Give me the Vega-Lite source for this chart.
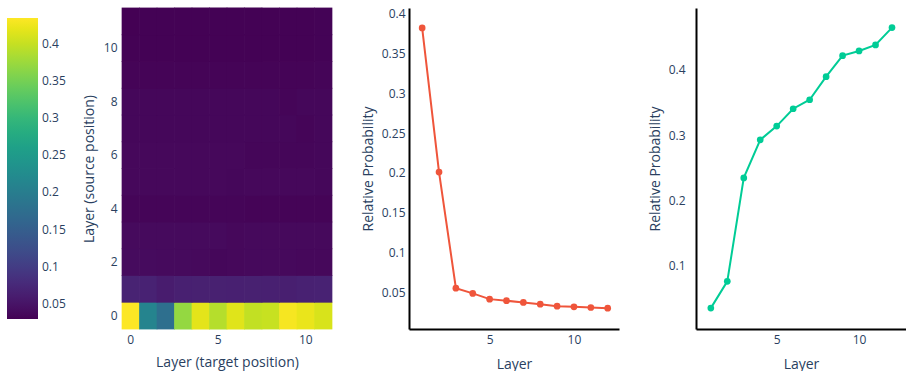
{
  "$schema": "https://vega.github.io/schema/vega-lite/v6.json",
  "padding": {"left": 7, "top": 7, "right": 0, "bottom": 0},
  "background": "white",
  "config": {
    "font": "Open Sans",
    "view": {"stroke": null},
    "axis": {"labelFontSize": 12, "titleFontSize": 14, "titleFontWeight": "normal", "labelColor": "#2a3f5f", "titleColor": "#2a3f5f", "grid": false, "ticks": false, "labelFont": "Open Sans", "titleFont": "Open Sans"},
    "legend": {"labelFontSize": 12, "labelColor": "#2a3f5f", "labelFont": "Open Sans"}
  },
  "datasets": {
    "heat": [
      {"t":0,"s":0,"v":0.434},{"t":1,"s":0,"v":0.212},{"t":2,"s":0,"v":0.176},{"t":3,"s":0,"v":0.370},{"t":4,"s":0,"v":0.418},{"t":5,"s":0,"v":0.390},{"t":6,"s":0,"v":0.416},{"t":7,"s":0,"v":0.398},{"t":8,"s":0,"v":0.401},{"t":9,"s":0,"v":0.430},{"t":10,"s":0,"v":0.422},{"t":11,"s":0,"v":0.411},
      {"t":0,"s":1,"v":0.068},{"t":1,"s":1,"v":0.067},{"t":2,"s":1,"v":0.060},{"t":3,"s":1,"v":0.064},{"t":4,"s":1,"v":0.065},{"t":5,"s":1,"v":0.065},{"t":6,"s":1,"v":0.064},{"t":7,"s":1,"v":0.065},{"t":8,"s":1,"v":0.064},{"t":9,"s":1,"v":0.063},{"t":10,"s":1,"v":0.066},{"t":11,"s":1,"v":0.067},
      {"t":0,"s":2,"v":0.040},{"t":1,"s":2,"v":0.040},{"t":2,"s":2,"v":0.039},{"t":3,"s":2,"v":0.039},{"t":4,"s":2,"v":0.038},{"t":5,"s":2,"v":0.036},{"t":6,"s":2,"v":0.037},{"t":7,"s":2,"v":0.038},{"t":8,"s":2,"v":0.038},{"t":9,"s":2,"v":0.038},{"t":10,"s":2,"v":0.037},{"t":11,"s":2,"v":0.037},
      {"t":0,"s":3,"v":0.039},{"t":1,"s":3,"v":0.039},{"t":2,"s":3,"v":0.039},{"t":3,"s":3,"v":0.039},{"t":4,"s":3,"v":0.039},{"t":5,"s":3,"v":0.039},{"t":6,"s":3,"v":0.037},{"t":7,"s":3,"v":0.038},{"t":8,"s":3,"v":0.038},{"t":9,"s":3,"v":0.038},{"t":10,"s":3,"v":0.038},{"t":11,"s":3,"v":0.038},
      {"t":0,"s":4,"v":0.034},{"t":1,"s":4,"v":0.034},{"t":2,"s":4,"v":0.034},{"t":3,"s":4,"v":0.034},{"t":4,"s":4,"v":0.034},{"t":5,"s":4,"v":0.034},{"t":6,"s":4,"v":0.034},{"t":7,"s":4,"v":0.033},{"t":8,"s":4,"v":0.033},{"t":9,"s":4,"v":0.033},{"t":10,"s":4,"v":0.033},{"t":11,"s":4,"v":0.033},
      {"t":0,"s":5,"v":0.037},{"t":1,"s":5,"v":0.037},{"t":2,"s":5,"v":0.037},{"t":3,"s":5,"v":0.037},{"t":4,"s":5,"v":0.037},{"t":5,"s":5,"v":0.037},{"t":6,"s":5,"v":0.036},{"t":7,"s":5,"v":0.037},{"t":8,"s":5,"v":0.037},{"t":9,"s":5,"v":0.037},{"t":10,"s":5,"v":0.037},{"t":11,"s":5,"v":0.036},
      {"t":0,"s":6,"v":0.037},{"t":1,"s":6,"v":0.037},{"t":2,"s":6,"v":0.037},{"t":3,"s":6,"v":0.037},{"t":4,"s":6,"v":0.037},{"t":5,"s":6,"v":0.037},{"t":6,"s":6,"v":0.037},{"t":7,"s":6,"v":0.035},{"t":8,"s":6,"v":0.035},{"t":9,"s":6,"v":0.035},{"t":10,"s":6,"v":0.035},{"t":11,"s":6,"v":0.036},
      {"t":0,"s":7,"v":0.036},{"t":1,"s":7,"v":0.036},{"t":2,"s":7,"v":0.036},{"t":3,"s":7,"v":0.036},{"t":4,"s":7,"v":0.036},{"t":5,"s":7,"v":0.036},{"t":6,"s":7,"v":0.036},{"t":7,"s":7,"v":0.036},{"t":8,"s":7,"v":0.036},{"t":9,"s":7,"v":0.036},{"t":10,"s":7,"v":0.034},{"t":11,"s":7,"v":0.036},
      {"t":0,"s":8,"v":0.036},{"t":1,"s":8,"v":0.036},{"t":2,"s":8,"v":0.036},{"t":3,"s":8,"v":0.036},{"t":4,"s":8,"v":0.036},{"t":5,"s":8,"v":0.036},{"t":6,"s":8,"v":0.036},{"t":7,"s":8,"v":0.036},{"t":8,"s":8,"v":0.036},{"t":9,"s":8,"v":0.034},{"t":10,"s":8,"v":0.036},{"t":11,"s":8,"v":0.036},
      {"t":0,"s":9,"v":0.033},{"t":1,"s":9,"v":0.033},{"t":2,"s":9,"v":0.033},{"t":3,"s":9,"v":0.033},{"t":4,"s":9,"v":0.033},{"t":5,"s":9,"v":0.033},{"t":6,"s":9,"v":0.033},{"t":7,"s":9,"v":0.033},{"t":8,"s":9,"v":0.033},{"t":9,"s":9,"v":0.033},{"t":10,"s":9,"v":0.033},{"t":11,"s":9,"v":0.034},
      {"t":0,"s":10,"v":0.031},{"t":1,"s":10,"v":0.031},{"t":2,"s":10,"v":0.031},{"t":3,"s":10,"v":0.031},{"t":4,"s":10,"v":0.031},{"t":5,"s":10,"v":0.031},{"t":6,"s":10,"v":0.031},{"t":7,"s":10,"v":0.031},{"t":8,"s":10,"v":0.031},{"t":9,"s":10,"v":0.031},{"t":10,"s":10,"v":0.031},{"t":11,"s":10,"v":0.032},
      {"t":0,"s":11,"v":0.030},{"t":1,"s":11,"v":0.031},{"t":2,"s":11,"v":0.031},{"t":3,"s":11,"v":0.031},{"t":4,"s":11,"v":0.031},{"t":5,"s":11,"v":0.031},{"t":6,"s":11,"v":0.031},{"t":7,"s":11,"v":0.031},{"t":8,"s":11,"v":0.031},{"t":9,"s":11,"v":0.031},{"t":10,"s":11,"v":0.031},{"t":11,"s":11,"v":0.032}
    ],
    "left": [
      {"layer":1,"p":0.382},{"layer":2,"p":0.201},{"layer":3,"p":0.0553},{"layer":4,"p":0.0487},{"layer":5,"p":0.0415},{"layer":6,"p":0.0395},{"layer":7,"p":0.0374},{"layer":8,"p":0.0352},{"layer":9,"p":0.0327},{"layer":10,"p":0.0318},{"layer":11,"p":0.031},{"layer":12,"p":0.0302}
    ],
    "right": [
      {"layer":1,"p":0.035},{"layer":2,"p":0.076},{"layer":3,"p":0.2346},{"layer":4,"p":0.293},{"layer":5,"p":0.314},{"layer":6,"p":0.3406},{"layer":7,"p":0.3544},{"layer":8,"p":0.3897},{"layer":9,"p":0.422},{"layer":10,"p":0.4292},{"layer":11,"p":0.4384},{"layer":12,"p":0.465}
    ]
  },
  "hconcat": [
    {
      "width": 210,
      "height": 321,
      "data": {"name": "heat"},
      "mark": {"type": "rect", "width": {"band": 1.04}, "height": {"band": 1.03}},
      "encoding": {
        "x": {"field": "t", "type": "ordinal", "scale": {"paddingInner": 0, "paddingOuter": 0}, "axis": {"values": [0, 5, 10], "labelAngle": 0, "domain": false, "labelPadding": 5, "title": "Layer (target position)", "titlePadding": 10}},
        "y": {"field": "s", "type": "ordinal", "sort": "descending", "scale": {"paddingInner": 0, "paddingOuter": 0}, "axis": {"values": [0, 2, 4, 6, 8, 10], "domain": false, "labelPadding": 5, "title": "Layer (source position)", "titlePadding": 7}},
        "color": {"field": "v", "type": "quantitative", "scale": {"scheme": "viridis", "domain": [0.03, 0.4345]}, "legend": {"type": "gradient", "title": null, "orient": "none", "legendX": -115, "legendY": 10, "gradientLength": 301, "gradientThickness": 31, "gradientStrokeWidth": 0, "values": [0.05, 0.1, 0.15, 0.2, 0.25, 0.3, 0.35, 0.4], "format": "~g", "labelOffset": 4}}
      }
    },
    {
      "width": 210,
      "height": 321,
      "data": {"name": "left"},
      "mark": {"type": "line", "color": "#EF553B", "strokeWidth": 2, "point": {"filled": true, "size": 45, "color": "#EF553B"}},
      "encoding": {
        "x": {"field": "layer", "type": "quantitative", "scale": {"domain": [0.22, 12.67], "nice": false, "zero": false}, "axis": {"values": [5, 10], "domainColor": "black", "domainWidth": 2, "labelPadding": 5, "title": "Layer", "titlePadding": 12}},
        "y": {"field": "p", "type": "quantitative", "scale": {"domain": [0.004, 0.407], "nice": false, "zero": false}, "axis": {"values": [0.05, 0.1, 0.15, 0.2, 0.25, 0.3, 0.35, 0.4], "format": "~g", "domainColor": "black", "domainWidth": 2, "labelPadding": 4, "title": "Relative Probability", "titlePadding": 6}}
      }
    },
    {
      "width": 210,
      "height": 321,
      "data": {"name": "right"},
      "mark": {"type": "line", "color": "#00CC96", "strokeWidth": 2, "point": {"filled": true, "size": 45, "color": "#00CC96"}},
      "encoding": {
        "x": {"field": "layer", "type": "quantitative", "scale": {"domain": [0.1, 12.85], "nice": false, "zero": false}, "axis": {"values": [5, 10], "domainColor": "black", "domainWidth": 2, "labelPadding": 5, "title": "Layer", "titlePadding": 12}},
        "y": {"field": "p", "type": "quantitative", "scale": {"domain": [0.003, 0.495], "nice": false, "zero": false}, "axis": {"values": [0.1, 0.2, 0.3, 0.4], "format": "~g", "domainColor": "black", "domainWidth": 2, "labelPadding": 11, "title": "Relative Probability", "titlePadding": 6}}
      }
    }
  ],
  "spacing": 77,
  "bounds": "flush",
  "resolve": {"scale": {"x": "independent", "y": "independent"}}
}
